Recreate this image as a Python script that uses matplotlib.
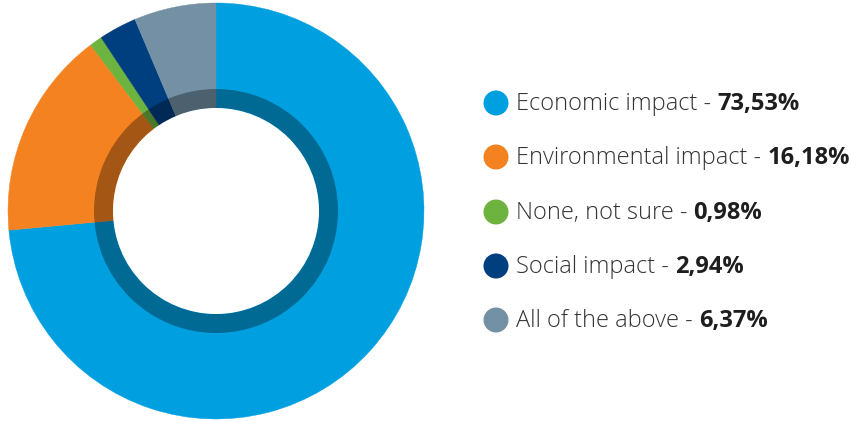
import numpy as np
import matplotlib
matplotlib.use("Agg")
from matplotlib import pyplot as plt
from matplotlib.patches import Circle, Wedge

labels = ["Economic impact", "Environmental impact", "None, not sure", "Social impact", "All of the above"]
values = [73.53, 16.18, 0.98, 2.94, 6.37]
value_labels = ["73,53%", "16,18%", "0,98%", "2,94%", "6,37%"]
colors = ["#009fdf", "#f58220", "#6db33f", "#003f7f", "#7390a4"]

W, H = 851, 421
fig = plt.figure(figsize=(W / 100, H / 100), dpi=100)
plt.rcParams['font.family'] = ['Open Sans', 'DejaVu Sans']

# donut axes in pixel units
ax = fig.add_axes([0, 0, 1, 1])
ax.set_xlim(0, W)
ax.set_ylim(H, 0)
ax.set_axis_off()

cx, cy = 216, 211
r_out, r_shade, r_in = 208, 122, 103

angle = 90.0
for v, c in zip(values, colors):
	span = v / sum(values) * 360
	# clockwise from top; y axis is inverted so angles flip sign
	t1 = -angle
	t2 = -(angle - span)
	ax.add_patch(Wedge((cx, cy), r_out, t1, t2, facecolor=c, edgecolor=c, lw=0.3))
	angle -= span

# darker inner ring
ax.add_patch(Wedge((cx, cy), r_shade, 0, 360, width=r_shade - r_in,
	facecolor="black", alpha=0.33, lw=0))
ax.add_patch(Circle((cx, cy), r_in, facecolor="white", lw=0))

# legend
ys = [103, 157, 212, 266, 320]
fig.canvas.draw()
renderer = fig.canvas.get_renderer()
for y, lab, val, c in zip(ys, labels, value_labels, colors):
	ax.add_patch(Circle((496, y), 12.5, facecolor=c, lw=0))
	t = ax.text(516, y + 1, lab + " - ", fontsize=17, color="#333333",
		fontweight="light", va="center", ha="left")
	bb = t.get_window_extent(renderer)
	ax.text(bb.x1, y + 1, val, fontsize=17, fontweight="bold",
		color="#1e1e1e", va="center", ha="left")

fig.savefig("out.png", dpi=100)
